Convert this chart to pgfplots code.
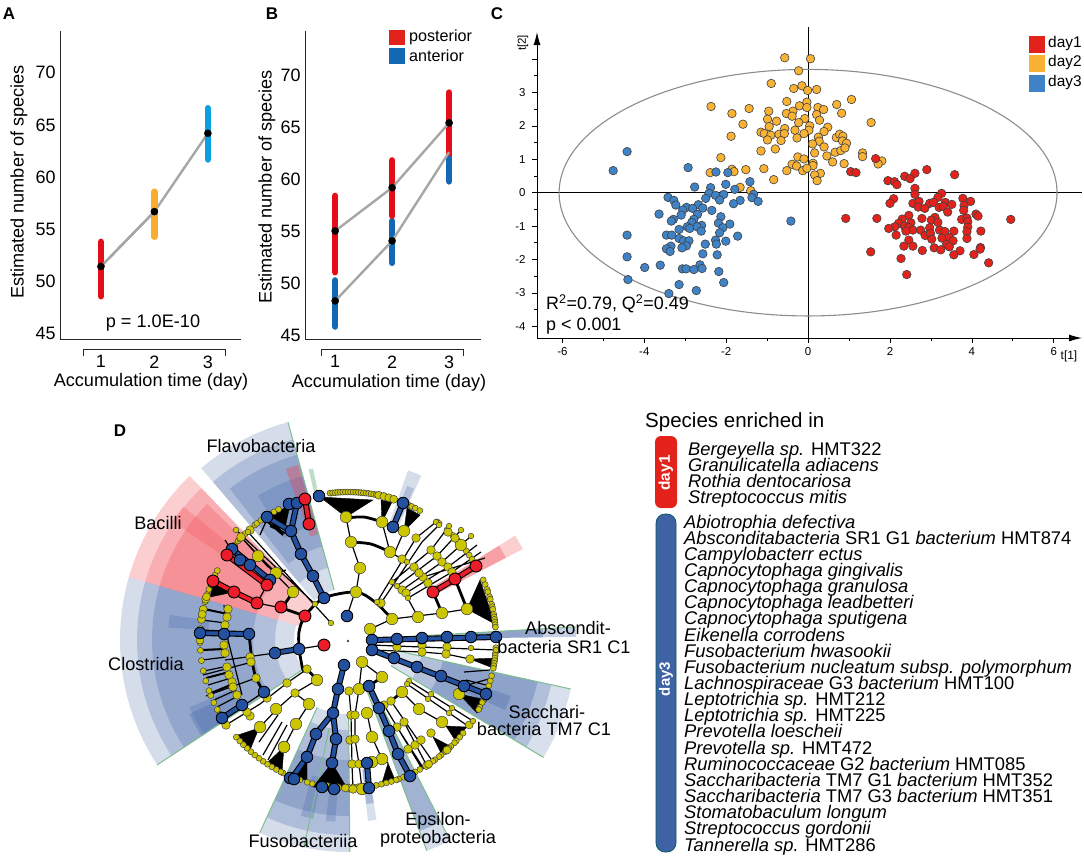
\documentclass[border=0pt]{standalone}
\usepackage{fontspec}
\setmainfont{Liberation Sans}
\usepackage{pgfplots}
\pgfplotsset{compat=1.18}
\usetikzlibrary{arrows.meta}
\definecolor{cred}{HTML}{E30E17}
\definecolor{corange}{HTML}{F8AE2C}
\definecolor{ccyan}{HTML}{0C9FE2}
\definecolor{cblue}{HTML}{1268B3}
\definecolor{dred}{HTML}{E3231B}
\definecolor{dorange}{HTML}{F9B233}
\definecolor{dblue}{HTML}{3F82C5}
\definecolor{ynode}{HTML}{CCC600}
\definecolor{bnode}{HTML}{2450A0}
\definecolor{rnode}{HTML}{EC1C2A}
\definecolor{wblue}{HTML}{3F62A5}
\definecolor{wred}{HTML}{EE3B45}
\definecolor{wedge}{HTML}{7DBE8C}
\tikzset{lab/.style={font=\fontsize{18.2}{19}\selectfont}}
\pgfplotsset{
  panel/.style={scale only axis, axis lines*=left, axis line style={-, line width=.9bp, black!85},
    major tick length=0pt, clip=false, xtick={1,2,3}, ytick={45,50,55,60,65,70},
    ymin=44.5, ymax=74, tick label style={font=\fontsize{18}{18}\selectfont},
    xticklabel style={yshift=-13bp}, yticklabel style={xshift=-1bp},
    /pgf/number format/assume math mode=true},
  bar/.style={line width=6.6bp, line cap=round},
  link/.style={line width=2.4bp, color=black!35},
  dot/.style={only marks, mark=*, mark size=3.6, mark options={fill=black, draw=black}},
  pca/.style={only marks, mark=*, mark size=4.3, mark options={fill=#1, draw=black!75, line width=.6bp}},
  yn/.style={only marks, mark=*, mark size=#1, mark options={fill=ynode, draw=black!75, line width=.5bp}},
  bn/.style={only marks, mark=*, mark size=#1, mark options={fill=bnode, draw=black, line width=.9bp}},
  rn/.style={only marks, mark=*, mark size=#1, mark options={fill=rnode, draw=black, line width=.9bp}},
  thin branch/.style={black, line width=1.2bp, unbounded coords=jump},
  thick branch/.style={black, line width=2.8bp, unbounded coords=jump, line cap=round},
  under/.style={black, line width=6bp, unbounded coords=jump},
  blue over/.style={bnode, line width=3.8bp, unbounded coords=jump},
  red over/.style={rnode, line width=3.8bp, unbounded coords=jump},
  /pgfplots/table/ring/.style={header=false, row sep=\\,
    x expr={348+148*cos(\thisrowno{0})}, y expr={640-148*sin(\thisrowno{0})}},
}
% annular sector around the cladogram centre (348,640), radii in bp
\newcommand{\sector}[6]{%
  \fill[#5, fill opacity=#6, shift={(348bp,-640bp)}]
    (#1:#3bp) -- (#1:#4bp) arc[start angle=#1, end angle=#2, radius=#4bp]
    -- (#2:#3bp) arc[start angle=#2, end angle=#1, radius=#3bp] -- cycle;}
\newcommand{\sectorline}[4]{%
  \draw[wedge, line width=1bp, shift={(348bp,-640bp)}] (#1:#2bp) -- (#1:#3bp);}
\begin{document}
\begin{tikzpicture}[x=1bp, y=1bp]
\path[use as bounding box] (0,0) rectangle (1084,-860);

% panel labels
\foreach \t/\x/\y in {A/9/-14, B/272/-14, C/497/-14, D/120/-431}
  \node[font=\fontsize{17}{17}\bfseries\selectfont] at (\x,\y) {\t};

% ---- A
\begin{axis}[panel, at={(60bp,-339bp)}, anchor=south west, width=181bp, height=308bp,
  xmin=0.234, xmax=3.62]
\addplot[link] coordinates {(1,51.45) (2,56.7) (3,64.2)};
\addplot[bar, cred] coordinates {(1,48.6) (1,53.8)};
\addplot[bar, corange] coordinates {(2,54.3) (2,58.6)};
\addplot[bar, ccyan] coordinates {(3,61.7) (3,66.6)};
\addplot[link] coordinates {(1,51.45) (2,56.7)};
\addplot[dot] coordinates {(1,51.45) (2,56.7) (3,64.2)};
\end{axis}
\node[lab, rotate=90] at (19,-182) {Estimated number of species};
\node[lab] at (151,-382) {Accumulation time (day)};
\node[lab] at (153,-323) {p = 1.0E-10};
\draw[line width=.9bp, black!85] (83,-356) -- (83,-349) -- (225,-349) -- (225,-356);

% ---- B
\begin{axis}[panel, at={(305bp,-339bp)}, anchor=south west, width=176bp, height=308bp,
  xmin=0.47, xmax=3.56, ymin=44.7, ymax=74.2]
\addplot[bar, cblue] coordinates {(1,45.9) (1,50.3)};
\addplot[bar, cblue] coordinates {(2,52) (2,56)};
\addplot[bar, cblue] coordinates {(3,59.8) (3,63)};
\addplot[bar, cred] coordinates {(1,51.1) (1,58.4)};
\addplot[bar, cred] coordinates {(2,56.5) (2,61.8)};
\addplot[bar, cred] coordinates {(3,62.5) (3,68.3)};
\addplot[link] coordinates {(1,55.05) (2,59.2) (3,65.4)};
\addplot[link] coordinates {(1,48.35) (2,54.1) (3,62.6)};
\addplot[dot] coordinates {(1,55.05) (2,59.2) (3,65.4) (1,48.35) (2,54.1)};
\end{axis}
\node[lab, rotate=90] at (267,-187) {Estimated number of species};
\node[lab] at (389,-383) {Accumulation time (day)};
\draw[line width=.9bp, black!85] (321,-356) -- (321,-349) -- (463,-349) -- (463,-356);
\fill[dred] (389,-30) rectangle (405,-45);
\fill[cblue] (389,-48) rectangle (405,-64);
\node[anchor=west, inner sep=0pt, font=\fontsize{16.2}{17}\selectfont] at (409,-37) {posterior};
\node[anchor=west, inner sep=0pt, font=\fontsize{16.2}{17}\selectfont] at (409,-56) {anterior};

% ---- C
\begin{axis}[at={(537bp,-338bp)}, anchor=south west, scale only axis, width=545bp, height=306bp,
  xmin=-6.62, xmax=6.69, ymin=-4.35, ymax=4.81, clip=false,
  axis x line=bottom, axis y line=left,
  axis line style={line width=1bp, -{Latex[length=13bp, width=7bp]}},
  tick align=outside, major tick length=5bp, minor tick length=3bp,
  tick style={black, line width=.7bp},
  xtick={-6,-4,-2,0,2,4,6}, xticklabels={-6,-4,-2,0,2,4,6},
  ytick={-4,-3,-2,-1,0,1,2,3,4}, yticklabels={-4,-3,-2,-1,0,1,2,3,},
  minor x tick num=1, minor y tick num=1,
  tick label style={font=\fontsize{11.5}{12}\selectfont},
  xticklabel style={yshift=-1bp}, yticklabel style={xshift=-3bp}]
\addplot[black, line width=.9bp] coordinates {(-6.62,0) (6.69,0)};
\addplot[black, line width=.9bp] coordinates {(0,-4.35) (0,4.95)};
\draw[black!45, line width=1.1bp] (axis cs:0,0) ellipse [x radius=6.08, y radius=3.69];
\addplot[pca=dorange] coordinates {
(-0.57,4.04)(0.06,4.01)(-0.23,3.65)(-0.90,3.27)(-0.15,3.20)(-0.35,3.12)(0.21,3.09)(-0.01,3.06)
(-0.52,2.73)(-0.03,2.71)(1.06,2.79)(0.70,2.64)(-0.21,2.60)(-0.03,2.55)(0.24,2.55)(0.38,2.49)
(-2.37,2.58)(-1.44,2.52)(-1.86,2.37)(-0.96,2.44)(-0.37,2.44)(-0.53,2.37)(-0.39,2.29)(0.21,2.34)
(0.82,2.38)(-0.99,2.20)(-0.77,2.14)(-1.59,2.05)(-0.08,2.22)(0.28,2.17)(-0.23,2.10)(1.54,2.10)
(-0.95,1.98)(0.04,2.00)(-0.57,1.92)(-0.32,1.87)(0.02,1.87)(0.48,1.96)(-1.15,1.81)(-1.07,1.77)
(-0.91,1.72)(-0.71,1.75)(-0.58,1.77)(-0.10,1.77)(0.39,1.83)(-1.88,1.69)(-0.27,1.64)(-0.99,1.58)
(-0.66,1.56)(0.25,1.66)(0.27,1.54)(0.69,1.65)(0.77,1.75)(0.85,1.69)(0.84,1.55)(0.94,1.48)
(0.11,1.46)(0.39,1.37)(-0.80,1.31)(-1.15,1.25)(0.66,1.21)(0.80,1.26)(0.90,1.34)(0.16,1.19)
(1.33,1.19)(1.33,1.08)(-0.25,1.07)(-0.10,1.01)(0.46,1.10)(-2.13,1.05)(0.60,0.92)(1.80,0.95)
(1.71,0.86)(-0.39,0.85)(-0.28,0.80)(0.12,0.88)(0.12,0.81)(0.88,0.87)(-1.08,0.72)(-1.52,0.69)
(-1.86,0.70)(-1.81,0.63)(-2.39,0.60)(-0.52,0.66)(-0.13,0.66)(-0.03,0.73)(0.30,0.58)(0.16,0.53)
(-0.84,0.39)(0.22,0.36)(-1.66,0.16)(-1.40,0.06)};
\addplot[pca=dblue] coordinates {
(-4.42,1.23)(-4.76,0.66)(-2.93,0.75)(-2.25,0.62)(-1.96,0.60)(-2.77,0.17)(-2.38,0.15)(-1.42,0.33)
(-2.01,0.25)(-1.79,0.10)(-2.42,-0.02)(-2.26,-0.08)(-2.06,-0.05)(-1.33,-0.05)(-3.42,-0.14)(-3.28,-0.23)
(-2.50,-0.17)(-2.16,-0.22)(-1.37,-0.15)(-1.22,-0.26)(-1.66,-0.23)(-1.82,-0.33)(-3.23,-0.37)(-2.97,-0.44)
(-2.68,-0.36)(-2.82,-0.47)(-2.57,-0.46)(-3.06,-0.52)(-2.35,-0.53)(-2.70,-0.65)(-3.64,-0.64)(-3.10,-0.67)
(-2.13,-0.72)(-3.29,-0.80)(-3.34,-0.85)(-2.79,-0.80)(-2.84,-0.89)(-2.19,-0.91)(-1.91,-0.94)(-0.42,-0.85)
(-2.60,-0.98)(-2.95,-1.02)(-2.89,-1.07)(-2.71,-1.02)(-2.08,-1.05)(-3.15,-1.10)(-2.61,-1.15)(-4.42,-1.27)
(-3.46,-1.27)(-3.33,-1.27)(-2.16,-1.20)(-1.72,-1.30)(-3.15,-1.37)(-3.04,-1.44)(-2.91,-1.44)(-2.26,-1.42)
(-2.01,-1.45)(-2.24,-1.54)(-2.51,-1.54)(-3.35,-1.60)(-2.97,-1.59)(-3.08,-1.65)(-3.46,-1.68)(-3.37,-1.76)
(-2.57,-1.83)(-2.22,-1.86)(-4.42,-1.92)(-3.61,-2.17)(-3.99,-2.24)(-2.64,-2.16)(-3.07,-2.28)(-2.98,-2.28)
(-2.79,-2.30)(-2.59,-2.27)(-2.18,-2.36)(-4.40,-2.60)(-2.06,-2.69)(-3.15,-2.75)(-2.73,-2.93)(-3.40,-3.02)};
\addplot[pca=dred] coordinates {
(1.65,1.02)(1.04,0.63)(1.17,0.60)(2.90,0.69)(2.61,0.58)(2.36,0.49)(2.49,0.42)(3.58,0.54)(1.95,0.36)
(2.11,0.33)(2.17,0.24)(2.61,0.13)(2.61,-0.05)(3.26,-0.02)(3.17,-0.14)(2.09,-0.18)(3.78,-0.17)(3.97,-0.26)
(2.00,-0.32)(2.56,-0.32)(2.71,-0.26)(2.97,-0.32)(3.06,-0.29)(3.35,-0.29)(3.51,-0.35)(3.20,-0.44)(3.30,-0.41)
(2.69,-0.43)(2.85,-0.47)(3.81,-0.38)(3.41,-0.58)(3.80,-0.53)(4.10,-0.64)(4.15,-0.70)(2.46,-0.68)(0.92,-0.77)
(1.68,-0.77)(2.30,-0.79)(2.78,-0.77)(3.10,-0.74)(3.01,-0.82)(3.75,-0.80)(3.88,-0.76)(4.95,-0.80)(3.17,-0.89)
(2.21,-0.92)(2.51,-0.90)(2.12,-1.02)(3.90,-0.87)(3.90,-1.03)(1.97,-1.07)(2.35,-1.00)(2.46,-1.04)(2.56,-1.12)
(2.39,-1.15)(2.75,-1.12)(2.97,-1.05)(3.21,-1.12)(3.34,-1.16)(3.56,-1.15)(3.88,-1.17)(4.22,-1.15)(2.15,-1.27)
(2.86,-1.28)(2.99,-1.22)(3.27,-1.36)(3.02,-1.39)(3.45,-1.34)(3.88,-1.37)(3.54,-1.44)(2.46,-1.42)(2.34,-1.60)
(2.56,-1.60)(3.08,-1.65)(3.38,-1.55)(3.45,-1.62)(4.21,-1.64)(4.20,-1.69)(2.79,-1.73)(3.24,-1.71)(3.71,-1.74)
(3.56,-1.86)(4.05,-1.85)(1.53,-1.77)(2.27,-1.97)(4.41,-2.10)(2.41,-2.45)};
\end{axis}
\node[rotate=90, font=\fontsize{11.5}{12}\selectfont] at (523,-43) {t[2]};
\node[font=\fontsize{12}{12}\selectfont] at (1069,-356) {t[1]};
\node[anchor=west, inner sep=0pt, font=\fontsize{18}{19}\selectfont] at (546,-304) {R\textsuperscript{2}=0.79, Q\textsuperscript{2}=0.49};
\node[anchor=west, inner sep=0pt, font=\fontsize{18}{19}\selectfont] at (546,-326) {p < 0.001};
\foreach \c/\t/\y in {dred/day1/36, dorange/day2/55, dblue/day3/75} {
  \fill[\c] (1029,-\y) rectangle ++(16,-17);
  \node[anchor=west, inner sep=0pt, font=\fontsize{15.5}{16}\selectfont] at (1048,-\y-8) {\t};
}

% ---- D wedges
\sector{164}{213.2}{54}{228}{wblue}{.22}
\sector{164}{213.2}{73}{211}{wblue}{.24}
\sector{164}{213.2}{95}{196}{wblue}{.26}
\sector{203}{213.2}{125}{172}{wblue}{.25}
\sector{172}{176}{140}{180}{wblue}{.25}
\sector{205}{213}{150}{175}{wblue}{.3}
\sector{134}{164}{50}{228}{wred}{.25}
\sector{134}{164}{73}{211}{wred}{.22}
\sector{136}{164}{95}{196}{wred}{.24}
\sector{141}{146}{130}{212}{wred}{.22}
\sector{105.4}{130.5}{52}{226}{wblue}{.22}
\sector{105.4}{130.5}{75}{208}{wblue}{.24}
\sector{105.4}{128}{97}{192}{wblue}{.26}
\sector{105.4}{122}{120}{170}{wblue}{.25}
\sector{105.8}{110}{110}{182}{wred}{.35}
\sector{245.4}{258}{74}{212}{wblue}{.22}
\sector{258}{270.5}{74}{212}{wblue}{.22}
\sector{245.4}{270.5}{90}{195}{wblue}{.26}
\sector{245.4}{270.5}{120}{176}{wblue}{.26}
\sector{255}{259}{140}{182}{wblue}{.25}
\sector{263}{266}{140}{182}{wblue}{.25}
\sector{276.3}{279}{130}{182}{wblue}{.2}
\sector{276.3}{279}{130}{165}{wblue}{.3}
\sector{290.5}{297}{47}{225}{wblue}{.22}
\sector{290.5}{297}{70}{204}{wblue}{.35}
\sector{329}{347.6}{50}{228}{wblue}{.2}
\sector{329}{347.6}{75}{208}{wblue}{.26}
\sector{329}{347.6}{97}{194}{wblue}{.3}
\sector{336}{341}{125}{172}{wblue}{.3}
\sector{.8}{3.3}{30}{228}{wblue}{.3}
\sector{.8}{3.3}{120}{195}{wblue}{.4}
\sector{27.5}{32}{97}{197}{wred}{.25}
\sector{27.5}{32}{97}{178}{wred}{.3}
\sector{66}{70.5}{121}{180}{wblue}{.22}
\sector{66.5}{69}{135}{165}{wblue}{.25}
\sector{101.5}{103}{150}{175}{wedge}{.5}
\sectorline{105.4}{52}{226}{}
\sectorline{290.5}{47}{225}{}
\sectorline{297}{47}{225}{}
\sectorline{329}{50}{228}{}
\sectorline{347.6}{50}{228}{}
\sectorline{213.2}{54}{228}{}
\sectorline{258}{90}{212}{}
\sectorline{245.4}{74}{212}{}
\sectorline{270.5}{74}{212}{}
\sectorline{3.3}{30}{228}{}

% ---- D cladogram, in image pixels
\begin{axis}[at={(100bp,-860bp)}, anchor=south west, scale only axis, width=530bp, height=440bp,
  xmin=100, xmax=630, ymin=420, ymax=860, y dir=reverse, hide axis, clip=false]
% fans of black triangles
\addplot[fill=black, draw=black] coordinates {(346,517)(320,497)(373,500)(346,517)};
\addplot[fill=black, draw=black] coordinates {(382,522)(381,500)(392,502)(382,522)};
\addplot[fill=black, draw=black] coordinates {(404,531)(407,508)(420,515)(404,531)};
\addplot[fill=black, draw=black] coordinates {(467,609)(480,580)(495,624)(467,609)};
\addplot[fill=black, draw=black] coordinates {(470,659)(497,658)(493,668)(470,659)};
\addplot[fill=black, draw=black] coordinates {(459,694)(487,700)(477,713)(459,694)};
\addplot[fill=black, draw=black] coordinates {(446,726)(467,727)(455,740)(446,726)};
\addplot[fill=black, draw=black] coordinates {(433,737)(448,745)(442,755)(433,737)};
\addplot[fill=black, draw=black] coordinates {(388,763)(382,783)(395,780)(388,763)};
\addplot[fill=black, draw=black] coordinates {(259,728)(238,735)(250,750)(259,728)};
\addplot[fill=black, draw=black] coordinates {(284,747)(267,763)(282,772)(284,747)};
\addplot[fill=black, draw=black] coordinates {(307,757)(290,778)(307,780)(307,757)};
\addplot[fill=black, draw=black] coordinates {(332,763)(313,787)(347,788)(332,763)};
\addplot[fill=black, draw=black] coordinates {(213,583)(234,592)(210,597)(213,583)};
\addplot[fill=black, draw=black] coordinates {(272,515)(290,505)(285,528)(272,515)};
% main arcs
\addplot[thick branch, smooth] coordinates {(299,649)(299,632)(305,616)(324,598)(356,592)(375,602)(392,619)};
\addplot[thick branch, smooth] coordinates {(299,649)(303,670)(307,669)};
\addplot[thick branch, smooth] coordinates {(346,518)(364,517)(382,522)};
\addplot[thick branch, smooth] coordinates {(351,542)(371,544)(390,552)};
\addplot[thick branch, smooth] coordinates {(249,634)(252,660)(256,678)(264,692)};
\addplot[thick branch] coordinates {(305,616)(282,608)(nan,nan)(282,608)(293,592)(nan,nan)(307,669)(317,680)
  (nan,nan)(433,592)(442,613)(nan,nan)(455,579)(467,609)(nan,nan)(382,677)(369,686)(nan,nan)(391,701)(402,692)};
% thin branches
\addplot[thin branch] coordinates {
(346,517)(351,542)(360,568)(356,592)(nan,nan)(355,592)(347,616)(nan,nan)(382,522)(390,552)(402,559)
(nan,nan)(404,531)(395,552)(nan,nan)(392,619)(442,613)(467,609)(nan,nan)(370,629)(392,619)
(nan,nan)(418,617)(407,597)(nan,nan)(377,602)(416,538)(436,522)(nan,nan)(381,603)(422,542)(439,525)
(nan,nan)(392,582)(431,550)(449,526)(nan,nan)(397,586)(437,556)(461,530)(nan,nan)(402,590)(442,562)(471,536)
(nan,nan)(406,593)(448,567)(477,545)(nan,nan)(408,598)(452,572)(481,552)(nan,nan)(423,577)(485,558)
(nan,nan)(372,645)(496,650)(nan,nan)(372,650)(422,652)(446,654)(470,659)
(nan,nan)(362,662)(359,689)(nan,nan)(382,677)(362,662)(nan,nan)(402,692)(419,709)(442,722)(446,726)
(nan,nan)(409,681)(473,721)(nan,nan)(407,684)(468,726)(nan,nan)(384,705)(421,767)(nan,nan)(391,701)(433,762)
(nan,nan)(397,727)(424,769)(nan,nan)(404,722)(428,768)(nan,nan)(349,691)(351,715)(352,765)(353,789)
(nan,nan)(359,689)(355,715)(355,739)(359,764)(362,789)(nan,nan)(367,713)(372,737)(382,759)(388,763)
(nan,nan)(307,669)(287,683)(260,704)(226,725)(nan,nan)(317,680)(295,693)(277,709)(259,728)
(nan,nan)(309,704)(296,724)(284,747)(nan,nan)(295,693)(309,704)(nan,nan)(331,623)(248,532)
(nan,nan)(315,604)(236,530)(nan,nan)(257,603)(282,608)(nan,nan)(267,585)(257,603)
(nan,nan)(264,692)(226,717)(nan,nan)(256,678)(206,696)(nan,nan)(252,662)(203,675)(nan,nan)(275,653)(225,660)
(nan,nan)(299,649)(324,645)(nan,nan)(249,634)(225,634)(nan,nan)(286,570)(276,573)(259,556)(241,537)
(nan,nan)(293,592)(258,556)(nan,nan)(241,537)(268,567)(nan,nan)(238,560)(225,540)(nan,nan)(268,517)(260,535)
(nan,nan)(259,742)(278,715)(nan,nan)(263,755)(282,722)(nan,nan)(268,760)(287,725)(nan,nan)(273,765)(283,745)
(nan,nan)(228,614)(204,609)(nan,nan)(226,623)(202,620)(nan,nan)(225,631)(201,630)(nan,nan)(225,649)(201,650)
(nan,nan)(226,657)(202,660)(nan,nan)(228,666)(204,671)(nan,nan)(229,672)(206,678)(nan,nan)(231,678)(208,685)
(nan,nan)(233,684)(211,693)(nan,nan)(236,690)(214,700)(nan,nan)(238,696)(217,707)
(nan,nan)(224,605)(228,640)(242,695)(nan,nan)(464,686)(492,678)(nan,nan)(464,672)(490,670)(nan,nan)(466,680)(490,686)};
\addplot[thin branch, line width=2bp] coordinates {
(228,614)(204,609)(nan,nan)(225,649)(201,650)(nan,nan)(229,672)(206,678)(nan,nan)(233,684)(211,693)
(nan,nan)(267,517)(281,531)(nan,nan)(270,526)(285,533)(nan,nan)(268,522)(283,535)};
% highlighted branches
\addplot[under] coordinates {
(324,598)(313,576)(301,554)(291,531)(267,517)(nan,nan)(200,633)(249,634)(nan,nan)(299,649)(274,653)
(nan,nan)(372,640)(496,637)(nan,nan)(372,650)(486,694)(nan,nan)(369,686)(379,708)(389,731)(398,754)(410,776)
(nan,nan)(344,665)(338,689)(333,713)(336,739)(332,763)(nan,nan)(333,713)(316,734)(307,757)(292,778)
(nan,nan)(367,763)(369,788)(nan,nan)(393,527)(403,503)(nan,nan)(222,718)(242,705)(nan,nan)(297,503)(291,531)
(nan,nan)(232,549)(270,580)};
\addplot[blue over] coordinates {
(324,598)(313,576)(301,554)(291,531)(267,517)(nan,nan)(200,633)(249,634)(nan,nan)(299,649)(274,653)
(nan,nan)(372,640)(496,637)(nan,nan)(372,650)(486,694)(nan,nan)(369,686)(379,708)(389,731)(398,754)(410,776)
(nan,nan)(344,665)(338,689)(333,713)(336,739)(332,763)(nan,nan)(333,713)(316,734)(307,757)(292,778)
(nan,nan)(367,763)(369,788)(nan,nan)(393,527)(403,503)(nan,nan)(222,718)(242,705)(nan,nan)(297,503)(291,531)
(nan,nan)(232,549)(270,580)};
\addplot[under] coordinates {(257,603)(234,592)(213,581)(nan,nan)(227,555)(267,585)(nan,nan)(305,499)(309,524)
  (nan,nan)(433,592)(455,579)(476,566)};
\addplot[red over] coordinates {(257,603)(234,592)(213,581)(nan,nan)(227,555)(267,585)(nan,nan)(305,499)(309,524)
  (nan,nan)(433,592)(455,579)(476,566)};
% nodes on the outer ring, angle in degrees
\addplot[yn=3] table[ring] {97\\96\\95\\94\\93\\92\\91\\90\\89\\88\\87\\86\\85\\84\\83\\82\\81\\80\\79\\67\\66\\64.5\\63\\61\\53\\52\\48\\47.5\\45\\42\\41\\39\\37\\35\\33\\24\\22\\20\\19\\17\\16\\14\\13\\12\\10\\9\\8\\7\\6\\5\\-3\\-5\\-6\\-7\\-8\\-9\\-10\\-11\\-14\\-16\\-18\\-20\\-22\\-24\\-25\\-27\\-28\\-39\\-41\\-43\\-44\\-46\\-47\\-49\\-51\\-52\\-54\\-55\\-61\\-63\\-65\\-67\\-68\\-70\\-71\\-73\\-75\\-77\\-79\\-104\\-106\\-109\\-116\\-117\\-119\\-121\\-123\\-125\\-127\\-129\\-131\\-133\\-135\\-137\\-139\\-145\\-148\\-150\\-152\\-155\\-158\\-160\\-164\\-168\\-172\\-176\\-179\\169\\165\\162\\160\\158\\156\\154\\152\\140\\138\\137\\136\\135\\134\\129\\128\\126\\124\\122\\120\\118\\};
\addplot[yn=4] table[ring] {78\\76\\74\\72\\-84\\-88\\-90\\-91\\-100\\-98\\-96\\-94\\-82\\-86\\-58\\-57\\-48\\-35\\180\\-184\\-188\\-192\\-196\\170\\163\\};
% inner nodes
\addplot[yn=5.8] coordinates {(346,517)(351,542)(360,568)(356,592)(382,522)(390,552)(404,531)(418,617)(392,619)(370,629)
  (442,613)(467,609)(293,592)(276,573)(258,556)(317,680)(309,704)(296,724)(260,727)(284,747)(362,662)(382,677)(359,689)
  (402,692)(419,709)(442,722)(367,713)(372,737)(382,759)(372,762)(362,789)(461,545)(284,747)(276,709)(459,694)};
\addplot[yn=4.3] coordinates {(431,550)(437,556)(442,562)(416,538)(423,577)(414,567)(402,559)(402,590)(448,567)(419,573)
  (448,532)(455,538)(452,572)(428,583)(406,593)(381,603)(287,683)(295,693)(307,669)(226,725)(250,657)(251,662)(256,678)
  (267,698)(228,609)(227,617)(225,625)(224,645)(225,653)(227,667)(229,675)(232,682)(233,687)(237,695)(250,716)(247,712)
  (349,691)(351,715)(355,715)(350,740)(355,739)(352,764)(359,764)(353,789)(397,727)(404,722)(431,733)(408,749)(415,745)
  (421,740)(384,705)(391,701)(397,647)(422,645)(447,647)(470,659)(446,654)(422,652)(241,537)(250,530)};
\addplot[yn=2.8] coordinates {(397,586)(392,582)(408,598)(407,562)(377,602)(409,681)(407,684)(431,694)(428,699)(452,708)
  (449,713)(473,721)(471,648)(496,650)(331,623)(315,604)(248,532)(236,530)(436,522)(439,525)(449,526)(461,530)(471,536)};
\addplot[yn=1] coordinates {(348,641)};
\addplot[bn=5.8] coordinates {(319,496)(289,504)(297,503)(267,517)(291,531)(301,554)(313,576)(324,598)(347,616)(232,549)(240,560)
  (250,565)(270,580)(200,633)(224,634)(249,634)(275,653)(299,649)(264,692)(242,705)(222,718)(344,665)(338,689)(333,713)(316,734)
  (336,739)(307,757)(332,763)(290,778)(294,779)(322,787)(334,789)(372,640)(397,639)(422,638)(447,637)(471,637)(496,637)(372,650)
  (394,658)(417,667)(441,676)(464,686)(486,694)(369,686)(379,708)(389,731)(398,754)(410,776)(367,763)(369,788)(393,527)(403,503)};
\addplot[rn=6] coordinates {(305,499)(309,524)(227,555)(213,581)(234,592)(257,603)(267,585)(281,607)(305,616)(324,645)(433,592)(455,579)(476,566)};
\end{axis}
\foreach \t/\x/\y in {Flavobacteria/261/446, Bacilli/158/523, Clostridia/146/664, Fusobacteriia/303/841,
  Abscondit-/568/628, bacteria SR1 C1/564/647, Sacchari-/547/712, bacteria TM7 C1/544/729,
  Epsilon-/438/821, proteobacteria/438/839}
  \node[font=\fontsize{18.2}{19}\selectfont] at (\x,-\y) {\t};

% ---- species list
\node[anchor=west, inner sep=0pt, font=\fontsize{20.6}{21}\selectfont] at (645,-422) {Species enriched in};
\fill[dred, rounded corners=6bp] (655,-436) rectangle (677,-508);
\node[rotate=90, white, font=\fontsize{15.5}{16}\bfseries\selectfont] at (666,-473) {day1};
\fill[wblue, draw=teal!70!black, line width=.7bp, rounded corners=9bp] (656,-514) rectangle (676,-852);
\node[rotate=90, white, font=\fontsize{15}{15}\bfseries\selectfont] at (666,-679) {day3};
\begin{scope}[every node/.style={anchor=base west, inner sep=0pt, font=\fontsize{18.4}{18.4}\selectfont}]
\node at (688,-455) {\textit{Bergeyella sp.} HMT322};
\node at (688,-471) {\textit{Granulicatella adiacens}};
\node at (688,-487) {\textit{Rothia dentocariosa}};
\node at (688,-503) {\textit{Streptococcus mitis}};
\foreach \n [count=\i from 0] in {
  \textit{Abiotrophia defectiva},
  \textit{Absconditabacteria} SR1 G1 \textit{bacterium} HMT874,
  \textit{Campylobacterr ectus},
  \textit{Capnocytophaga gingivalis},
  \textit{Capnocytophaga granulosa},
  \textit{Capnocytophaga leadbetteri},
  \textit{Capnocytophaga sputigena},
  \textit{Eikenella corrodens},
  \textit{Fusobacterium hwasookii},
  \textit{Fusobacterium nucleatum subsp. polymorphum},
  \textit{Lachnospiraceae} G3 \textit{bacterium} HMT100,
  \textit{Leptotrichia sp.} HMT212,
  \textit{Leptotrichia sp.} HMT225,
  \textit{Prevotella loescheii},
  \textit{Prevotella sp.} HMT472,
  \textit{Ruminococcaceae} G2 \textit{bacterium} HMT085,
  \textit{Saccharibacteria} TM7 G1 \textit{bacterium} HMT352,
  \textit{Saccharibacteria} TM7 G3 \textit{bacterium} HMT351,
  \textit{Stomatobaculum longum},
  \textit{Streptococcus gordonii},
  \textit{Tannerella sp.} HMT286}
  \node at (684,-528-16.15*\i) {\n};
\end{scope}
\end{tikzpicture}
\end{document}
